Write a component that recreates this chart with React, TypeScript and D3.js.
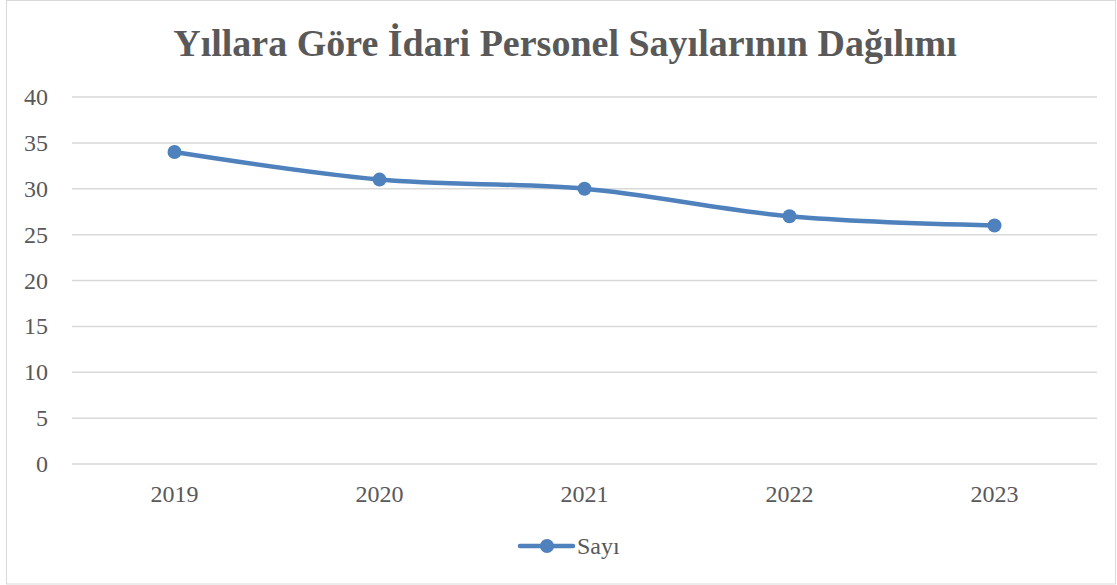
import * as d3 from "d3";

const title = "Yıllara Göre İdari Personel Sayılarının Dağılımı";
const years = ["2019", "2020", "2021", "2022", "2023"];
const sayi = [34, 31, 30, 27, 26];
const yTicks = [0, 5, 10, 15, 20, 25, 30, 35, 40];
const seriesName = "Sayı";

const W = 1117;
const H = 585;
const blue = "#4f81bd";
const textColor = "#595959";
const font = "'Liberation Serif', 'Times New Roman', serif";

export default function App() {
  const x = d3.scalePoint<string>().domain(years).range([72, 1097]).padding(0.5);
  const y = d3.scaleLinear().domain([0, 40]).range([464, 97]);

  const line = d3
    .line<number>()
    .x((_, i) => x(years[i]) as number)
    .y((d) => y(d))
    .curve(d3.curveCatmullRom.alpha(0.5));

  return (
    <div>
      <style>{"body{margin:0}"}</style>
      <svg width={W} height={H} style={{ display: "block", fontFamily: font }}>
        <rect x={6.5} y={0.5} width={W - 8} height={H - 1.5} fill="#fff" stroke="#d9d9d9" />
        <text
          x={565}
          y={56}
          textAnchor="middle"
          fontSize={38}
          fontWeight="bold"
          fill={textColor}
        >
          {title}
        </text>

        {yTicks.map((t) => (
          <g key={t}>
            <line x1={72} x2={1097} y1={y(t)} y2={y(t)} stroke="#d9d9d9" strokeWidth={1.5} />
            <text x={48} y={y(t) + 8} textAnchor="end" fontSize={24} fill={textColor}>
              {t}
            </text>
          </g>
        ))}

        {years.map((yr) => (
          <text key={yr} x={x(yr)} y={502} textAnchor="middle" fontSize={24} fill={textColor}>
            {yr}
          </text>
        ))}

        <path d={line(sayi) || ""} fill="none" stroke={blue} strokeWidth={4.5} strokeLinecap="round" />
        {sayi.map((v, i) => (
          <circle key={i} cx={x(years[i])} cy={y(v)} r={7} fill={blue} />
        ))}

        <g>
          <line x1={520} x2={573} y1={546} y2={546} stroke={blue} strokeWidth={4.5} strokeLinecap="round" />
          <circle cx={547} cy={546} r={7} fill={blue} />
          <text x={577} y={554} fontSize={24} fill={textColor}>
            {seriesName}
          </text>
        </g>
      </svg>
    </div>
  );
}
